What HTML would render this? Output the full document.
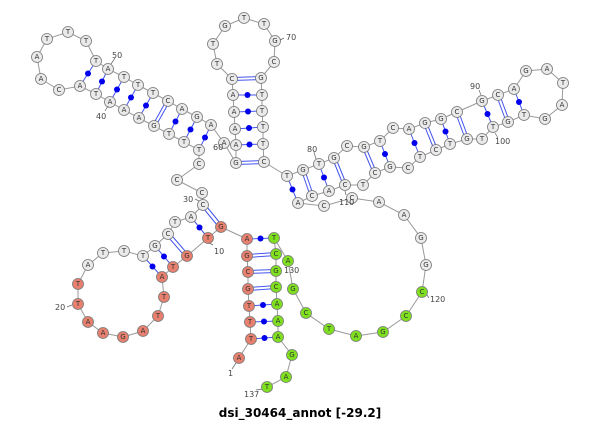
<!DOCTYPE html>
<html><head><meta charset="utf-8"><style>
html,body{margin:0;padding:0;background:#fff;width:600px;height:423px;overflow:hidden}
svg text{font-family:"DejaVu Sans","Liberation Sans",sans-serif}
.n text{font-size:7px;fill:#333;text-anchor:middle;dominant-baseline:central}
.lb{font-size:8px;fill:#444}
</style></head><body>
<svg width="600" height="423" viewBox="0 0 600 423" xmlns="http://www.w3.org/2000/svg">
<polyline fill="none" stroke="#999" stroke-width="1" points="239,358 251,339 250,322 249,306 248,289 248,272 247,256 247,239 221,227 208,238 187,256 173,267 162,277 164,297 158,316 143,331 123,337 103,333 88,322 78,304 78,284 88,265 103,253 124,251 143,256 155,246 168,234 175,222 191,217 203,205 202,193 177,180 199,164 199,150 184,142 169,134 154,126 139,118 124,110 110,102 96,94 80,86 59,90 41,79 37,57 47,39 68,32 86,41 96,61 108,69 124,77 138,85 153,93 168,101 182,109 197,117 211,125 224,143 236,163 236,145 235,129 234,112 233,95 232,79 217,64 213,44 225,26 244,18 264,24 275,41 274,62 261,78 262,95 262,111 263,127 263,144 264,162 287,176 303,170 319,164 334,158 347,146 364,147 380,141 393,128 409,129 425,123 441,119 457,112 482,101 498,95 514,89 526,71 547,69 563,83 562,105 545,119 524,115 508,122 493,127 482,139 467,139 450,144 436,150 420,157 408,168 390,167 375,173 363,185 345,185 329,191 312,196 298,203 324,206 352,198 379,202 404,215 421,238 426,265 422,292 406,316 383,332 356,336 329,329 306,313 293,289 288,261 274,238 276,254 276,271 276,287 277,304 278,321 278,337 292,355 286,377 267,387"/>
<g stroke="#4455ee" stroke-width="1" fill="none">
<line x1="251" y1="339" x2="278" y2="337"/><line x1="250" y1="322" x2="278" y2="321"/><line x1="249" y1="306" x2="277" y2="304"/><line x1="247" y1="239" x2="274" y2="238"/>
<line x1="208" y1="238" x2="191" y2="217"/><line x1="173" y1="267" x2="155" y2="246"/><line x1="162" y1="277" x2="143" y2="256"/>
<line x1="199" y1="150" x2="211" y2="125"/><line x1="184" y1="142" x2="197" y2="117"/><line x1="169" y1="134" x2="182" y2="109"/><line x1="139" y1="118" x2="153" y2="93"/><line x1="124" y1="110" x2="138" y2="85"/><line x1="110" y1="102" x2="124" y2="77"/><line x1="96" y1="94" x2="108" y2="69"/><line x1="80" y1="86" x2="96" y2="61"/>
<line x1="236" y1="145" x2="263" y2="144"/><line x1="235" y1="129" x2="263" y2="127"/><line x1="234" y1="112" x2="262" y2="111"/><line x1="233" y1="95" x2="262" y2="95"/>
<line x1="287" y1="176" x2="298" y2="203"/><line x1="319" y1="164" x2="329" y2="191"/><line x1="380" y1="141" x2="390" y2="167"/><line x1="409" y1="129" x2="420" y2="157"/><line x1="441" y1="119" x2="450" y2="144"/><line x1="482" y1="101" x2="493" y2="127"/><line x1="514" y1="89" x2="524" y2="115"/>
</g>
<g stroke="#4455ee" stroke-width="1" fill="none">
<path d="M248,287.5 L276,285.5 M248,290.5 L276,288.5"/>
<path d="M248,270.5 L276,269.5 M248,273.5 L276,272.5"/>
<path d="M247,254.5 L276,252.5 M247,257.5 L276,255.5"/>
<path d="M219.5,228 L201.5,206 M222.5,226 L204.5,204"/>
<path d="M185.5,257 L166.5,235 M188.5,255 L169.5,233"/>
<path d="M152.5,125.5 L166.5,100.5 M155.5,126.5 L169.5,101.5"/>
<path d="M236,161.5 L264,160.5 M236,164.5 L264,163.5"/>
<path d="M232,77.5 L261,76.5 M232,80.5 L261,79.5"/>
<path d="M301.5,170.5 L310.5,196.5 M304.5,169.5 L313.5,195.5"/>
<path d="M332.5,158.5 L343.5,185.5 M335.5,157.5 L346.5,184.5"/>
<path d="M362.5,147.5 L373.5,173.5 M365.5,146.5 L376.5,172.5"/>
<path d="M423.5,123.5 L434.5,150.5 M426.5,122.5 L437.5,149.5"/>
<path d="M455.5,112.5 L465.5,139.5 M458.5,111.5 L468.5,138.5"/>
<path d="M496.5,95.5 L506.5,122.5 M499.5,94.5 L509.5,121.5"/>
</g>
<g fill="#0000ee">
<circle cx="264.5" cy="338" r="3"/><circle cx="264" cy="321.5" r="3"/><circle cx="263" cy="305" r="3"/><circle cx="260.5" cy="238.5" r="3"/>
<circle cx="199.5" cy="227.5" r="3"/><circle cx="164" cy="256.5" r="3"/><circle cx="152.5" cy="266.5" r="3"/>
<circle cx="205" cy="137.5" r="3"/><circle cx="190.5" cy="129.5" r="3"/><circle cx="175.5" cy="121.5" r="3"/><circle cx="146" cy="105.5" r="3"/><circle cx="131" cy="97.5" r="3"/><circle cx="117" cy="89.5" r="3"/><circle cx="102" cy="81.5" r="3"/><circle cx="88" cy="73.5" r="3"/>
<circle cx="249.5" cy="144.5" r="3"/><circle cx="249" cy="128" r="3"/><circle cx="248" cy="111.5" r="3"/><circle cx="247.5" cy="95" r="3"/>
<circle cx="292.5" cy="189.5" r="3"/><circle cx="324" cy="177.5" r="3"/><circle cx="385" cy="154" r="3"/><circle cx="414.5" cy="143" r="3"/><circle cx="445.5" cy="131.5" r="3"/><circle cx="487.5" cy="114" r="3"/><circle cx="519" cy="102" r="3"/>
</g>
<g class="n" stroke="#777" stroke-width="0.8">
<g fill="#e8806f">
<circle cx="239" cy="358" r="5.5"/><circle cx="251" cy="339" r="5.5"/><circle cx="250" cy="322" r="5.5"/><circle cx="249" cy="306" r="5.5"/><circle cx="248" cy="289" r="5.5"/><circle cx="248" cy="272" r="5.5"/><circle cx="247" cy="256" r="5.5"/><circle cx="247" cy="239" r="5.5"/><circle cx="221" cy="227" r="5.5"/><circle cx="208" cy="238" r="5.5"/><circle cx="187" cy="256" r="5.5"/><circle cx="173" cy="267" r="5.5"/><circle cx="162" cy="277" r="5.5"/><circle cx="164" cy="297" r="5.5"/><circle cx="158" cy="316" r="5.5"/><circle cx="143" cy="331" r="5.5"/><circle cx="123" cy="337" r="5.5"/><circle cx="103" cy="333" r="5.5"/><circle cx="88" cy="322" r="5.5"/><circle cx="78" cy="304" r="5.5"/><circle cx="78" cy="284" r="5.5"/>
</g>
<g fill="#7ee01e">
<circle cx="422" cy="292" r="5.5"/><circle cx="406" cy="316" r="5.5"/><circle cx="383" cy="332" r="5.5"/><circle cx="356" cy="336" r="5.5"/><circle cx="329" cy="329" r="5.5"/><circle cx="306" cy="313" r="5.5"/><circle cx="293" cy="289" r="5.5"/><circle cx="288" cy="261" r="5.5"/><circle cx="274" cy="238" r="5.5"/><circle cx="276" cy="254" r="5.5"/><circle cx="276" cy="271" r="5.5"/><circle cx="276" cy="287" r="5.5"/><circle cx="277" cy="304" r="5.5"/><circle cx="278" cy="321" r="5.5"/><circle cx="278" cy="337" r="5.5"/><circle cx="292" cy="355" r="5.5"/><circle cx="286" cy="377" r="5.5"/><circle cx="267" cy="387" r="5.5"/>
</g>
<g fill="#eaeaea">
<circle cx="88" cy="265" r="5.5"/><circle cx="103" cy="253" r="5.5"/><circle cx="124" cy="251" r="5.5"/><circle cx="143" cy="256" r="5.5"/><circle cx="155" cy="246" r="5.5"/><circle cx="168" cy="234" r="5.5"/><circle cx="175" cy="222" r="5.5"/><circle cx="191" cy="217" r="5.5"/><circle cx="203" cy="205" r="5.5"/><circle cx="202" cy="193" r="5.5"/><circle cx="177" cy="180" r="5.5"/><circle cx="199" cy="164" r="5.5"/><circle cx="199" cy="150" r="5.5"/><circle cx="184" cy="142" r="5.5"/><circle cx="169" cy="134" r="5.5"/><circle cx="154" cy="126" r="5.5"/><circle cx="139" cy="118" r="5.5"/><circle cx="124" cy="110" r="5.5"/><circle cx="110" cy="102" r="5.5"/><circle cx="96" cy="94" r="5.5"/><circle cx="80" cy="86" r="5.5"/><circle cx="59" cy="90" r="5.5"/><circle cx="41" cy="79" r="5.5"/><circle cx="37" cy="57" r="5.5"/><circle cx="47" cy="39" r="5.5"/><circle cx="68" cy="32" r="5.5"/><circle cx="86" cy="41" r="5.5"/><circle cx="96" cy="61" r="5.5"/><circle cx="108" cy="69" r="5.5"/><circle cx="124" cy="77" r="5.5"/><circle cx="138" cy="85" r="5.5"/><circle cx="153" cy="93" r="5.5"/><circle cx="168" cy="101" r="5.5"/><circle cx="182" cy="109" r="5.5"/><circle cx="197" cy="117" r="5.5"/><circle cx="211" cy="125" r="5.5"/><circle cx="224" cy="143" r="5.5"/><circle cx="236" cy="163" r="5.5"/><circle cx="236" cy="145" r="5.5"/><circle cx="235" cy="129" r="5.5"/><circle cx="234" cy="112" r="5.5"/><circle cx="233" cy="95" r="5.5"/><circle cx="232" cy="79" r="5.5"/><circle cx="217" cy="64" r="5.5"/><circle cx="213" cy="44" r="5.5"/><circle cx="225" cy="26" r="5.5"/><circle cx="244" cy="18" r="5.5"/><circle cx="264" cy="24" r="5.5"/><circle cx="275" cy="41" r="5.5"/><circle cx="274" cy="62" r="5.5"/><circle cx="261" cy="78" r="5.5"/><circle cx="262" cy="95" r="5.5"/><circle cx="262" cy="111" r="5.5"/><circle cx="263" cy="127" r="5.5"/><circle cx="263" cy="144" r="5.5"/><circle cx="264" cy="162" r="5.5"/><circle cx="287" cy="176" r="5.5"/><circle cx="303" cy="170" r="5.5"/><circle cx="319" cy="164" r="5.5"/><circle cx="334" cy="158" r="5.5"/><circle cx="347" cy="146" r="5.5"/><circle cx="364" cy="147" r="5.5"/><circle cx="380" cy="141" r="5.5"/><circle cx="393" cy="128" r="5.5"/><circle cx="409" cy="129" r="5.5"/><circle cx="425" cy="123" r="5.5"/><circle cx="441" cy="119" r="5.5"/><circle cx="457" cy="112" r="5.5"/><circle cx="482" cy="101" r="5.5"/><circle cx="498" cy="95" r="5.5"/><circle cx="514" cy="89" r="5.5"/><circle cx="526" cy="71" r="5.5"/><circle cx="547" cy="69" r="5.5"/><circle cx="563" cy="83" r="5.5"/><circle cx="562" cy="105" r="5.5"/><circle cx="545" cy="119" r="5.5"/><circle cx="524" cy="115" r="5.5"/><circle cx="508" cy="122" r="5.5"/><circle cx="493" cy="127" r="5.5"/><circle cx="482" cy="139" r="5.5"/><circle cx="467" cy="139" r="5.5"/><circle cx="450" cy="144" r="5.5"/><circle cx="436" cy="150" r="5.5"/><circle cx="420" cy="157" r="5.5"/><circle cx="408" cy="168" r="5.5"/><circle cx="390" cy="167" r="5.5"/><circle cx="375" cy="173" r="5.5"/><circle cx="363" cy="185" r="5.5"/><circle cx="345" cy="185" r="5.5"/><circle cx="329" cy="191" r="5.5"/><circle cx="312" cy="196" r="5.5"/><circle cx="298" cy="203" r="5.5"/><circle cx="324" cy="206" r="5.5"/><circle cx="352" cy="198" r="5.5"/><circle cx="379" cy="202" r="5.5"/><circle cx="404" cy="215" r="5.5"/><circle cx="421" cy="238" r="5.5"/><circle cx="426" cy="265" r="5.5"/>
</g>
</g>
<g class="n">
<text x="239" y="358">A</text><text x="251" y="339">T</text><text x="250" y="322">T</text><text x="249" y="306">T</text><text x="248" y="289">G</text><text x="248" y="272">C</text><text x="247" y="256">G</text><text x="247" y="239">A</text><text x="221" y="227">G</text><text x="208" y="238">T</text><text x="187" y="256">G</text><text x="173" y="267">T</text><text x="162" y="277">A</text><text x="164" y="297">T</text><text x="158" y="316">T</text><text x="143" y="331">A</text><text x="123" y="337">G</text><text x="103" y="333">A</text><text x="88" y="322">A</text><text x="78" y="304">T</text><text x="78" y="284">T</text><text x="88" y="265">A</text><text x="103" y="253">T</text><text x="124" y="251">T</text><text x="143" y="256">T</text><text x="155" y="246">G</text><text x="168" y="234">C</text><text x="175" y="222">T</text><text x="191" y="217">A</text><text x="203" y="205">C</text><text x="202" y="193">C</text><text x="177" y="180">C</text><text x="199" y="164">C</text><text x="199" y="150">T</text><text x="184" y="142">T</text><text x="169" y="134">T</text><text x="154" y="126">G</text><text x="139" y="118">A</text><text x="124" y="110">A</text><text x="110" y="102">A</text><text x="96" y="94">T</text><text x="80" y="86">A</text><text x="59" y="90">C</text><text x="41" y="79">A</text><text x="37" y="57">A</text><text x="47" y="39">T</text><text x="68" y="32">T</text><text x="86" y="41">T</text><text x="96" y="61">T</text><text x="108" y="69">A</text><text x="124" y="77">T</text><text x="138" y="85">T</text><text x="153" y="93">T</text><text x="168" y="101">C</text><text x="182" y="109">A</text><text x="197" y="117">G</text><text x="211" y="125">A</text><text x="224" y="143">A</text><text x="236" y="163">G</text><text x="236" y="145">A</text><text x="235" y="129">A</text><text x="234" y="112">A</text><text x="233" y="95">A</text><text x="232" y="79">C</text><text x="217" y="64">T</text><text x="213" y="44">T</text><text x="225" y="26">G</text><text x="244" y="18">T</text><text x="264" y="24">T</text><text x="275" y="41">G</text><text x="274" y="62">C</text><text x="261" y="78">G</text><text x="262" y="95">T</text><text x="262" y="111">T</text><text x="263" y="127">T</text><text x="263" y="144">T</text><text x="264" y="162">C</text><text x="287" y="176">T</text><text x="303" y="170">G</text><text x="319" y="164">T</text><text x="334" y="158">G</text><text x="347" y="146">C</text><text x="364" y="147">G</text><text x="380" y="141">T</text><text x="393" y="128">C</text><text x="409" y="129">A</text><text x="425" y="123">G</text><text x="441" y="119">G</text><text x="457" y="112">C</text><text x="482" y="101">G</text><text x="498" y="95">C</text><text x="514" y="89">A</text><text x="526" y="71">G</text><text x="547" y="69">A</text><text x="563" y="83">T</text><text x="562" y="105">A</text><text x="545" y="119">G</text><text x="524" y="115">T</text><text x="508" y="122">G</text><text x="493" y="127">T</text><text x="482" y="139">T</text><text x="467" y="139">G</text><text x="450" y="144">T</text><text x="436" y="150">C</text><text x="420" y="157">T</text><text x="408" y="168">C</text><text x="390" y="167">G</text><text x="375" y="173">C</text><text x="363" y="185">T</text><text x="345" y="185">C</text><text x="329" y="191">A</text><text x="312" y="196">C</text><text x="298" y="203">A</text><text x="324" y="206">C</text><text x="352" y="198">C</text><text x="379" y="202">A</text><text x="404" y="215">A</text><text x="421" y="238">G</text><text x="426" y="265">G</text><text x="422" y="292">C</text><text x="406" y="316">C</text><text x="383" y="332">G</text><text x="356" y="336">A</text><text x="329" y="329">T</text><text x="306" y="313">C</text><text x="293" y="289">G</text><text x="288" y="261">A</text><text x="274" y="238">T</text><text x="276" y="254">C</text><text x="276" y="271">G</text><text x="276" y="287">C</text><text x="277" y="304">A</text><text x="278" y="321">A</text><text x="278" y="337">A</text><text x="292" y="355">G</text><text x="286" y="377">A</text><text x="267" y="387">T</text>
</g>
<g class="lb" stroke="none">
<text x="228" y="376">1</text><text x="214" y="254">10</text><text x="55" y="310">20</text><text x="183" y="202">30</text><text x="96" y="119">40</text><text x="112" y="58">50</text><text x="213" y="150">60</text><text x="286" y="40">70</text><text x="307" y="152">80</text><text x="470" y="89">90</text><text x="495" y="144">100</text><text x="339" y="205">110</text><text x="430" y="302">120</text><text x="284" y="273">130</text><text x="244" y="397">137</text>
</g>
<g stroke="#666" stroke-width="0.7">
<line x1="232" y1="369" x2="236" y2="363"/><line x1="213" y1="245" x2="209" y2="243"/><line x1="67" y1="307" x2="72" y2="305"/><line x1="195" y1="199" x2="199" y2="201"/><line x1="105" y1="111" x2="108" y2="106"/><line x1="115" y1="58" x2="111" y2="64"/><line x1="284" y1="38" x2="280" y2="40"/><line x1="314" y1="152" x2="316" y2="159"/><line x1="479" y1="90" x2="481" y2="95"/><line x1="498" y1="138" x2="495" y2="133"/><line x1="346" y1="195" x2="345" y2="191"/><line x1="429" y1="298" x2="427" y2="295"/><line x1="256" y1="390" x2="262" y2="389"/>
</g>
<text x="300" y="417" text-anchor="middle" font-size="12" font-weight="bold" fill="#000">dsi_30464_annot [-29.2]</text>
</svg>
</body></html>
